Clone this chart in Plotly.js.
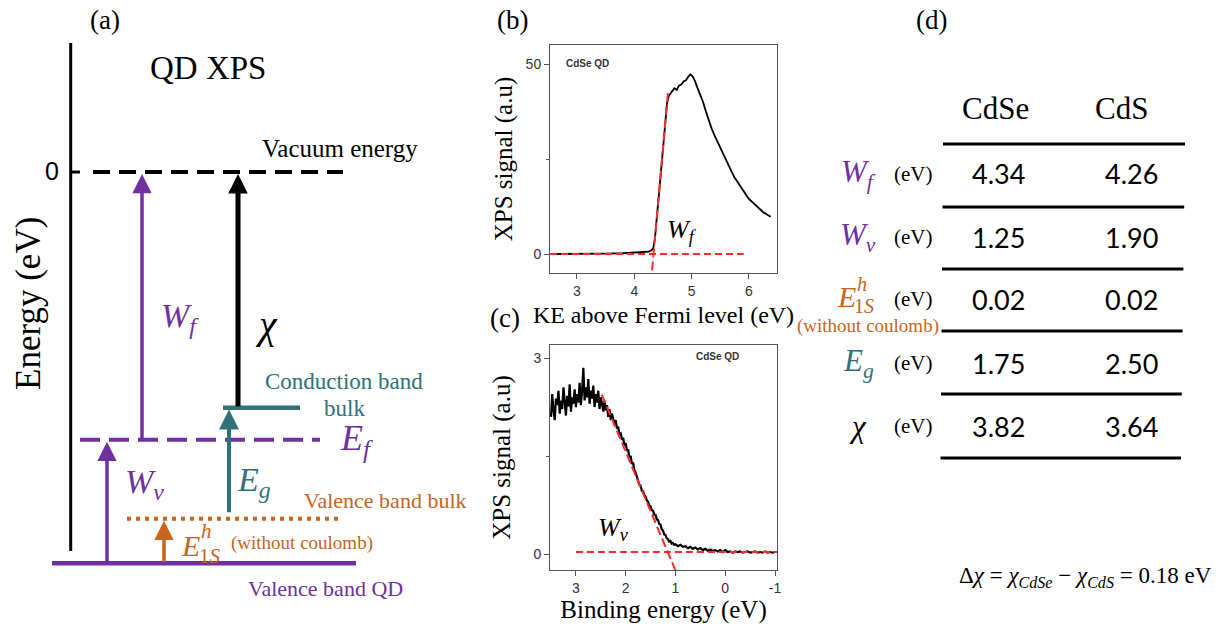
<!DOCTYPE html>
<html>
<head>
<meta charset="utf-8">
<script src="https://cdn.plot.ly/plotly-3.0.1.min.js"></script>
<style>html,body{margin:0;padding:0;background:#fff;}#chart{width:1227px;height:629px;}</style>
</head>
<body>
<div id="chart"></div>
<script>
// ---------- DATA ----------
// Panel (a): schematic energy levels (eV, vacuum = 0)
var levelNames = ['Vacuum energy', 'Conduction band bulk', 'Fermi level', 'Valence band bulk', 'Valence band QD'];
var levelEnergy = [0, -3.82, -4.34, -5.62, -6.34];

// Panel (b): XPS secondary-electron cutoff, CdSe QD
var kineticEnergy = [2.55, 3.0, 3.5, 3.8, 4.0, 4.1, 4.2, 4.25, 4.3, 4.33, 4.36, 4.39, 4.42, 4.45, 4.48, 4.51, 4.54, 4.57, 4.6, 4.63, 4.66, 4.7, 4.74, 4.78, 4.82, 4.86, 4.9, 4.94, 4.98, 5.02, 5.06, 5.1, 5.15, 5.2, 5.25, 5.3, 5.35, 5.4, 5.45, 5.5, 5.55, 5.6, 5.65, 5.7, 5.75, 5.8, 5.85, 5.9, 5.95, 6.0, 6.05, 6.1, 6.15, 6.2, 6.25, 6.3, 6.35, 6.38];
var cutoffSignal = [0, 0, 0.1, 0.2, 0.3, 0.4, 0.5, 0.6, 1.0, 1.5, 4, 8.5, 13.5, 19, 24, 29, 34, 39.5, 41.5, 42.3, 42.8, 43.6, 43.2, 44.3, 44.6, 45.4, 45.7, 46.6, 47.3, 46.7, 45.5, 43.8, 42, 40, 37.5, 35, 33, 31.2, 29.6, 27.8, 26.1, 24.5, 22.8, 21.6, 20.1, 18.9, 17.8, 16.5, 15.6, 14.5, 13.8, 13.0, 12.3, 11.6, 11.0, 10.5, 10.0, 9.8];
var cutoffFitX = [4.31, 4.59];
var cutoffFitY = [-4.3, 42.8];
var cutoffBaseX = [2.53, 5.91];
var cutoffBaseY = [0, 0];

// Panel (c): valence band edge, CdSe QD
var bindingEnergy = [3.500, 3.475, 3.450, 3.425, 3.400, 3.375, 3.350, 3.325, 3.300, 3.275, 3.250, 3.225, 3.200, 3.175, 3.150, 3.125, 3.100, 3.075, 3.050, 3.025, 3.000, 2.975, 2.950, 2.925, 2.900, 2.875, 2.850, 2.825, 2.800, 2.775, 2.750, 2.725, 2.700, 2.675, 2.650, 2.625, 2.600, 2.575, 2.550, 2.525, 2.500, 2.475, 2.450, 2.425, 2.400, 2.375, 2.350, 2.325, 2.300, 2.275, 2.250, 2.225, 2.200, 2.175, 2.150, 2.125, 2.100, 2.075, 2.050, 2.025, 2.000, 1.975, 1.950, 1.925, 1.900, 1.875, 1.850, 1.825, 1.800, 1.775, 1.750, 1.725, 1.700, 1.675, 1.650, 1.625, 1.600, 1.575, 1.550, 1.525, 1.500, 1.475, 1.450, 1.425, 1.400, 1.375, 1.350, 1.325, 1.300, 1.275, 1.250, 1.225, 1.200, 1.175, 1.150, 1.125, 1.100, 1.075, 1.050, 1.025, 1.000, 0.95, 0.90, 0.85, 0.80, 0.75, 0.70, 0.65, 0.60, 0.55, 0.50, 0.45, 0.40, 0.35, 0.30, 0.25, 0.20, 0.15, 0.10, 0.05, 0.00, -0.05, -0.10, -0.15, -0.20, -0.25, -0.30, -0.35, -0.40, -0.45, -0.50, -0.55, -0.60, -0.65, -0.70, -0.75, -0.80, -0.85, -0.90, -0.95, -1.00];
var valenceSignal = [2.10, 2.45, 2.20, 2.05, 2.38, 2.28, 2.50, 2.15, 2.35, 2.22, 2.55, 2.30, 2.12, 2.42, 2.26, 2.60, 2.18, 2.40, 2.30, 2.52, 2.25, 2.45, 2.32, 2.62, 2.28, 2.50, 2.85, 2.35, 2.55, 2.40, 2.68, 2.30, 2.50, 2.38, 2.58, 2.25, 2.45, 2.32, 2.50, 2.22, 2.40, 2.30, 2.18, 2.35, 2.20, 2.28, 2.10, 2.22, 2.05, 2.15, 2.08, 1.98, 2.05, 1.92, 1.95, 1.82, 1.86, 1.75, 1.78, 1.66, 1.70, 1.58, 1.60, 1.48, 1.50, 1.38, 1.40, 1.28, 1.25, 1.18, 1.15, 1.06, 1.05, 0.97, 0.96, 0.90, 0.88, 0.82, 0.80, 0.74, 0.73, 0.67, 0.66, 0.60, 0.60, 0.53, 0.52, 0.46, 0.45, 0.38, 0.36, 0.30, 0.29, 0.24, 0.23, 0.19, 0.20, 0.16, 0.17, 0.14, 0.15, 0.12, 0.14, 0.11, 0.12, 0.09, 0.11, 0.08, 0.10, 0.07, 0.09, 0.06, 0.08, 0.05, 0.07, 0.05, 0.06, 0.04, 0.06, 0.03, 0.06, 0.03, 0.04, 0.02, 0.04, 0.03, 0.04, 0.02, 0.03, 0.04, 0.02, 0.03, 0.04, 0.02, 0.03, 0.02, 0.04, 0.02, 0.03, 0.02, 0.03];
var valenceFitX = [2.48, 1.0];
var valenceFitY = [2.44, -0.25];
var valenceBaseX = [3.0, -1.04];
var valenceBaseY = [0.03, 0.03];

// Panel (d): table
var tableHeaders = ['CdSe', 'CdS'];
var rowSymbols = ['<i>W</i><sub><i>f</i></sub>', '<i>W</i><sub><i>v</i></sub>', 'E1S', '<i>E</i><sub><i>g</i></sub>', '<i>χ</i>'];
var cdseValues = ['4.34', '1.25', '0.02', '1.75', '3.82'];
var cdsValues = ['4.26', '1.90', '0.02', '2.50', '3.64'];
var deltaChi = '0.18';

// ---------- STYLE ----------
var PURPLE = '#7030a0', TEAL = '#31717a', ORANGE = '#c8641c', RED = '#ff2a2a';
var SERIF = '"Liberation Serif", "Times New Roman", serif';
var SANS = '"Liberation Sans", Arial, sans-serif';
var W = 1227, H = 629;
function P(x) { return x / W; }
function Q(y) { return 1 - y / H; }

var traces = [];
// Panel (a) levels on canvas axes x3/y3 (x in px, y in eV)
var levelX = [[93, 343], [223, 300], [80, 320], [127, 343], [52, 356]];
var levelStyle = [
  {color: 'black', width: 4, dash: '17px,9px'},
  {color: TEAL, width: 4.5, dash: 'solid'},
  {color: PURPLE, width: 4, dash: '20px,9px'},
  {color: ORANGE, width: 4, dash: '4px,5px'},
  {color: PURPLE, width: 4.5, dash: 'solid'}
];
levelEnergy.forEach(function (e, i) {
  traces.push({x: levelX[i], y: [e, e], xaxis: 'x3', yaxis: 'y3', mode: 'lines',
    line: levelStyle[i], hoverinfo: 'skip', name: levelNames[i]});
});
// energy axis line of diagram
traces.push({x: [70.7, 70.7], y: [2.09, -6.14], xaxis: 'x3', yaxis: 'y3', mode: 'lines',
  line: {color: 'black', width: 3}, hoverinfo: 'skip'});
traces.push({x: [70.7, 80], y: [levelEnergy[0], levelEnergy[0]], xaxis: 'x3', yaxis: 'y3', mode: 'lines',
  line: {color: 'black', width: 3}, hoverinfo: 'skip'});

// Panel (b)
traces.push({x: kineticEnergy, y: cutoffSignal, xaxis: 'x', yaxis: 'y', mode: 'lines', line: {color: 'black', width: 1.8}});
traces.push({x: cutoffBaseX, y: cutoffBaseY, xaxis: 'x', yaxis: 'y', mode: 'lines', line: {color: RED, width: 2, dash: '7px,4px'}});
traces.push({x: cutoffFitX, y: cutoffFitY, xaxis: 'x', yaxis: 'y', mode: 'lines', line: {color: RED, width: 2, dash: '9px,4px'}});
// Panel (c)
traces.push({x: bindingEnergy, y: valenceSignal, xaxis: 'x2', yaxis: 'y2', mode: 'lines', line: {color: 'black', width: 2.2}});
traces.push({x: valenceBaseX, y: valenceBaseY, xaxis: 'x2', yaxis: 'y2', mode: 'lines', line: {color: RED, width: 2, dash: '7px,4px'}});
traces.push({x: valenceFitX, y: valenceFitY, xaxis: 'x2', yaxis: 'y2', mode: 'lines', line: {color: RED, width: 2, dash: '9px,4px'}});

var ann = [];
function txt(x, y, text, size, color, opts) {
  var a = {xref: 'paper', yref: 'paper', x: P(x), y: Q(y), text: text, showarrow: false,
    xanchor: 'center', yanchor: 'middle', font: {family: SERIF, size: size, color: color || 'black'}};
  if (opts) for (var k in opts) a[k] = opts[k];
  ann.push(a);
}
function arrow(xpx, eFrom, eTo, color, width, size) {
  ann.push({xref: 'x3', yref: 'y3', axref: 'x3', ayref: 'y3', x: xpx, y: eTo, ax: xpx, ay: eFrom,
    text: '', showarrow: true, arrowhead: 2, arrowsize: size || 1.1, arrowwidth: width, arrowcolor: color, standoff: 0, startstandoff: 0});
}
// arrows in panel (a)
arrow(142, levelEnergy[2], levelEnergy[0] - 0.03, PURPLE, 3.5);   // W_f
arrow(238, levelEnergy[1], levelEnergy[0] - 0.03, 'black', 5, 0.78);    // chi
arrow(107, levelEnergy[4], levelEnergy[2] - 0.03, PURPLE, 3.5);   // W_v
arrow(229, levelEnergy[3] + 0.08, levelEnergy[1] - 0.03, TEAL, 4, 1.0); // E_g
arrow(164, levelEnergy[4], levelEnergy[3] - 0.03, ORANGE, 3.5);   // E_1S

// Panel (a) texts
txt(105, 20, '(a)', 27);
txt(208, 68, 'QD XPS', 33);
txt(28, 304, 'Energy (eV)', 35, 'black', {textangle: -90});
txt(52, 171, '0', 25, 'black', {font: {family: SANS, size: 25, color: 'black'}});
txt(340, 148, 'Vacuum energy', 25);
txt(180, 318, '<i>W</i><sub><i>f</i></sub>', 34, PURPLE);
txt(266, 324, '<i>χ</i>', 40, 'black');
txt(344, 382, 'Conduction band', 23, TEAL);
txt(344, 408, 'bulk', 23, TEAL);
txt(356, 440, '<i>E</i><sub><i>f</i></sub>', 36, PURPLE);
txt(144, 484, '<i>W</i><sub><i>v</i></sub>', 34, PURPLE);
txt(254, 482, '<i>E</i><sub><i>g</i></sub>', 34, TEAL);
txt(385, 500, 'Valence band bulk', 22, ORANGE);
txt(190, 545, '<i>E</i>', 30, ORANGE);
txt(206, 531, '<i>h</i>', 21, ORANGE);
txt(210, 556, '1<i>S</i>', 21, ORANGE);
txt(302, 543, '(without coulomb)', 19, ORANGE);
txt(325, 588, 'Valence band QD', 22, PURPLE);

// Panels (b),(c) texts
txt(512, 20, '(b)', 27);
txt(505, 318, '(c)', 27);
txt(587, 64, '<b>CdSe QD</b>', 10, '#333', {font: {family: SANS, size: 10, color: '#333'}});
txt(717, 356, '<b>CdSe QD</b>', 10, '#333', {font: {family: SANS, size: 10, color: '#333'}});
ann.push({xref: 'x', yref: 'y', x: 4.84, y: 6, text: '<i>W</i><sub><i>f</i></sub>', showarrow: false,
  font: {family: SERIF, size: 26, color: 'black'}});
ann.push({xref: 'x2', yref: 'y2', x: 2.25, y: 0.38, text: '<i>W</i><sub><i>v</i></sub>', showarrow: false,
  font: {family: SERIF, size: 26, color: 'black'}});

// Panel (d) table
txt(932, 20, '(d)', 27);
txt(995, 108, tableHeaders[0], 31);
txt(1121, 108, tableHeaders[1], 31);
var rowY = [174, 237, 299, 363, 426];
var rowColors = [PURPLE, PURPLE, ORANGE, TEAL, 'black'];
rowSymbols.forEach(function (s, i) {
  if (s === 'E1S') {
    txt(846, rowY[i] - 3, '<i>E</i>', 30, ORANGE);
    txt(862, rowY[i] - 15, '<i>h</i>', 20, ORANGE);
    txt(864, rowY[i] + 7, '1<i>S</i>', 20, ORANGE);
    txt(941, rowY[i] + 27, '(without coulomb)', 19, ORANGE, {xanchor: 'right'});
  } else {
    txt(858, rowY[i], s, 31, rowColors[i]);
  }
  txt(913, rowY[i], '(eV)', 21, 'black');
  txt(998, rowY[i], cdseValues[i], 27, 'black', {font: {family: 'Lato, "Open Sans", sans-serif', size: 27, color: 'black'}});
  txt(1131, rowY[i], cdsValues[i], 27, 'black', {font: {family: 'Lato, "Open Sans", sans-serif', size: 27, color: 'black'}});
});
txt(1214, 577, 'Δ<i>χ</i> = <i>χ</i><sub><i>CdSe</i></sub> − <i>χ</i><sub><i>CdS</i></sub> = ' + deltaChi + ' eV', 23, 'black', {xanchor: 'right'});

var lineY = [144, 207, 269, 331, 394, 458];
var shapes = lineY.map(function (y, i) {
  return {type: 'line', xref: 'paper', yref: 'paper', x0: P(943 - i * 0.5), x1: P(1185 - i * 0.8), y0: Q(y), y1: Q(y),
    line: {color: 'black', width: 3}};
});

var axisBase = {showgrid: false, zeroline: false, showline: true, mirror: true, linecolor: '#555', linewidth: 1,
  ticks: 'outside', ticklen: 5, tickcolor: '#555', tickfont: {family: SANS, size: 14, color: '#333'}};
function ax(extra) { var o = JSON.parse(JSON.stringify(axisBase)); for (var k in extra) o[k] = extra[k]; return o; }

var layout = {
  width: W, height: H, margin: {l: 0, r: 0, t: 0, b: 0}, showlegend: false,
  paper_bgcolor: 'white', plot_bgcolor: 'rgba(0,0,0,0)',
  xaxis: ax({domain: [P(550), P(777)], range: [2.53, 6.49], anchor: 'y', tickvals: [3, 4, 5, 6],
    title: {text: 'KE above Fermi level (eV)', font: {family: SERIF, size: 24, color: 'black'}, standoff: 8}}),
  yaxis: ax({domain: [Q(273), Q(45)], range: [-5, 55], anchor: 'x', tickvals: [0, 50],
    minor: {tickvals: [25], ticks: 'outside', ticklen: 3, tickcolor: '#555'},
    title: {text: 'XPS signal (a.u)', font: {family: SERIF, size: 25, color: 'black'}, standoff: 5}}),
  xaxis2: ax({domain: [P(550), P(777)], range: [3.52, -1.04], anchor: 'y2', tickvals: [3, 2, 1, 0, -1],
    ticktext: ['3', '2', '1', '0', '-1'],
    title: {text: 'Binding energy (eV)', font: {family: SERIF, size: 25, color: 'black'}, standoff: 4}}),
  yaxis2: ax({domain: [Q(570), Q(345)], range: [-0.245, 3.2], anchor: 'x2', tickvals: [0, 3],
    minor: {tickvals: [1.5], ticks: 'outside', ticklen: 3, tickcolor: '#555'},
    title: {text: 'XPS signal (a.u)', font: {family: SERIF, size: 25, color: 'black'}, standoff: 15}}),
  xaxis3: {domain: [0, 1], range: [0, W], visible: false, anchor: 'y3', fixedrange: true},
  yaxis3: {domain: [0, 1], range: [-7.406, 2.788], visible: false, anchor: 'x3', fixedrange: true},
  annotations: ann,
  shapes: shapes
};
Plotly.newPlot('chart', traces, layout, {staticPlot: true, displayModeBar: false});
</script>
</body>
</html>
